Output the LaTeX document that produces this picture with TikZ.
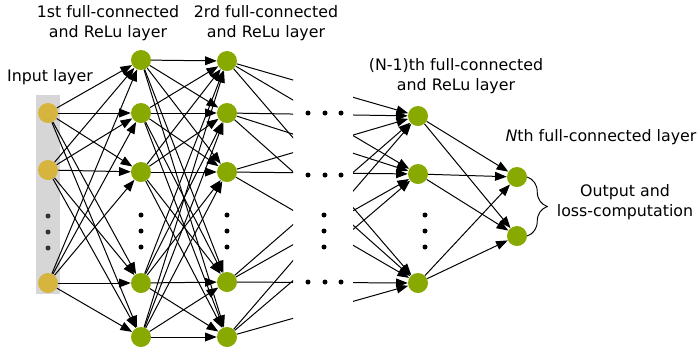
\documentclass[tikz,border=0pt]{standalone}
\usepackage{fontspec}
\setmainfont{DejaVu Sans}
\usepackage{tikz}
\usetikzlibrary{arrows.meta, positioning, decorations.pathreplacing}
\definecolor{inGold}{RGB}{214,180,62}
\definecolor{unitGreen}{RGB}{136,170,0}
\definecolor{barGray}{gray}{0.84}
\tikzset{
  inUnit/.style={circle, fill=inGold, minimum size=0.6cm, inner sep=0pt},
  hidUnit/.style={circle, fill=unitGreen, minimum size=0.6cm, inner sep=0pt},
  vdot/.style={circle, fill=black, minimum size=0.15cm, inner sep=0pt},
  link/.style={line width=0.85pt, -{Triangle[length=10pt, width=7.5pt]}},
  layerText/.style={align=center, font=\fontsize{13.5}{17}\selectfont}
}

\begin{document}
\begin{tikzpicture}[x=0.03cm, y=-0.03cm]
    \useasboundingbox (0,0) rectangle (697,350);

    % Input bar
    \fill[barGray] (36,95) rectangle (60,294);

    % Units
    \foreach \n/\y in {1/113, 2/170, 3/283}
        \node[inUnit] (i\n) at (48,\y) {};
    \foreach \n/\y in {1/60, 2/113, 3/172, 4/283, 5/337}
        \node[hidUnit] (a\n) at (141,\y) {};
    \foreach \n/\y in {1/61, 2/113, 3/172, 4/282, 5/337}
        \node[hidUnit] (b\n) at (227,\y) {};
    \foreach \n/\y in {1/116, 2/174, 3/283}
        \node[hidUnit] (c\n) at (418,\y) {};
    \foreach \n/\y in {1/177, 2/236}
        \node[hidUnit] (d\n) at (517,\y) {};

    % Connections
    \foreach \s in {1,2,3}
        \foreach \t in {1,...,5}
            \draw[link] (i\s) -- (a\t);
    \foreach \s in {1,...,5}
        \foreach \t in {1,...,5}
            \draw[link] (a\s) -- (b\t);
    \begin{scope}
        \clip (0,0) rectangle (293,350) (353,0) rectangle (697,350);
        \foreach \s in {1,...,5}
            \foreach \t in {1,2,3}
                \draw[link] (b\s) -- (c\t);
    \end{scope}
    \foreach \s in {1,2,3}
        \foreach \t in {1,2}
            \draw[link] (c\s) -- (d\t);

    % Dots
    \foreach \y in {216, 232, 248}
        \node[vdot, fill=black!80] at (48,\y) {};
    \foreach \x in {141, 227, 324, 425}
        \foreach \y in {215, 231, 247}
            \node[vdot] at (\x,\y) {};
    \foreach \y in {113, 175, 282}
        \foreach \x in {308, 325, 341}
            \node[vdot] at (\x,\y) {};

    % Brace
    \draw[line width=0.8pt, decorate, decoration={brace, amplitude=0.6cm}]
        (d1.east) -- (d2.east);

    % Labels
    \node[layerText] (inLabel) at (50,77) {Input layer};
    \node[layerText] (aLabel) at (108,23) {1st full-connected\\and ReLu layer};
    \node[layerText] (bLabel) at (266,23) {2rd full-connected\\and ReLu layer};
    \node[layerText] (cLabel) at (456,76) {(N-1)th full-connected\\and ReLu layer};
    \node[layerText] (dLabel) at (601,137) {\textit{N}th full-connected layer};
    \node[layerText] (outLabel) at (625,202) {Output and\\loss-computation};
\end{tikzpicture}
\end{document}
